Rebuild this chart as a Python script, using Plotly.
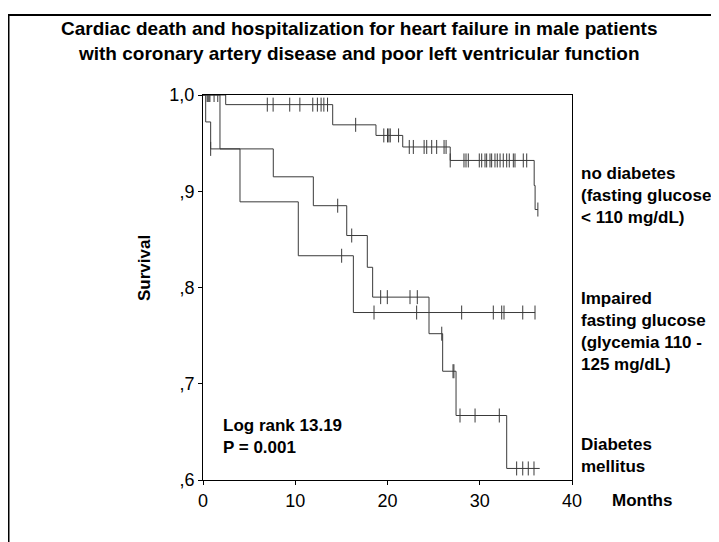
import plotly.graph_objects as go

# ---------------- data (months, survival) ----------------
nodiab_t = [0, 2.46, 14.06, 18.75, 21.65, 26.8, 35.9, 36.0, 36.3]
nodiab_s = [1.0, 0.990, 0.969, 0.958, 0.946, 0.932, 0.906, 0.881, 0.881]
nodiab_cens = [0.45, 0.55, 0.65, 0.75, 1.2, 1.6,
               6.97, 7.6, 9.4, 10.5, 11.9, 12.4, 12.8, 13.1, 13.5,
               16.55,
               19.6, 20.0, 20.15, 20.3, 21.2,
               22.36, 22.8, 23.97, 24.25, 24.79, 25.33, 26.13, 26.35,
               26.8, 28.29, 28.51, 28.76, 29.95, 30.21, 30.57, 30.75, 31.11, 31.29,
               31.65, 31.9, 32.2, 32.55, 32.92, 33.2, 33.64, 33.82, 34.72, 35.09,
               36.3]

ifg_t = [0, 1.84, 4.01, 10.33, 16.3, 36.0]
ifg_s = [1.0, 0.944, 0.889, 0.833, 0.774, 0.774]
ifg_cens = [15.03, 18.54, 23.16, 28.04, 31.47, 32.38, 32.63, 34.66, 35.99]

dm_t = [0, 0.29, 0.83, 7.62, 11.96, 15.58, 17.81, 18.39, 24.5, 25.98, 27.43, 32.92, 36.5]
dm_s = [1.0, 0.972, 0.944, 0.915, 0.885, 0.854, 0.821, 0.790, 0.752, 0.713, 0.667, 0.612, 0.612]
dm_cens = [0.83, 14.6, 16.12, 19.26, 19.98, 22.44, 23.23, 25.88, 27.1, 27.2,
           27.86, 29.49, 32.12, 34.0, 34.66, 35.26, 35.88]

x_ticks = [0, 10, 20, 30, 40]
y_ticks = [0.6, 0.7, 0.8, 0.9, 1.0]
y_ticklabels = [",6", ",7", ",8", ",9", "1,0"]

title_text = ("Cardiac death and hospitalization for heart failure in male patients<br>"
              "with coronary artery disease and poor left ventricular function")
group_labels = ["no diabetes<br>(fasting glucose<br>< 110 mg/dL)",
                "Impaired<br>fasting glucose<br>(glycemia 110 -<br>125 mg/dL)",
                "Diabetes<br>mellitus"]
stat_text = "Log rank 13.19<br>P = 0.001"


def step_value(ts, ss, t):
    v = ss[0]
    for ti, si in zip(ts, ss):
        if ti <= t:
            v = si
    return v


# ---------------- figure (positions given in screenshot pixels) ----------------
OFF = 8                      # page margin of the html body
W, H = 719, 542
L, R, T, B = 203, 572, 95, 480


def px(x):
    return (x - L) / (R - L)


def py(y):
    return (B - y) / (B - T)


LINE = "#3a3a3a"
fig = go.Figure()
for ts, ss, cens in [(nodiab_t, nodiab_s, nodiab_cens),
                     (ifg_t, ifg_s, ifg_cens),
                     (dm_t, dm_s, dm_cens)]:
    fig.add_trace(go.Scatter(x=ts, y=ss, mode="lines", line=dict(color=LINE, width=1, shape="hv"),
                             showlegend=False, hoverinfo="skip"))
    fig.add_trace(go.Scatter(x=cens, y=[step_value(ts, ss, c) for c in cens], mode="markers",
                             marker=dict(symbol="line-ns-open", size=10, color=LINE,
                                         line=dict(color=LINE, width=1)),
                             showlegend=False, hoverinfo="skip"))

BOLD = dict(family="Liberation Sans", size=17, color="black", weight="bold")
TITLE = dict(family="Liberation Sans", size=19, color="black", weight="bold")

annotations = [
    dict(text=title_text, xref="paper", yref="paper", x=px(359), y=py(41), xanchor="center",
         yanchor="middle", showarrow=False, font=TITLE, align="center"),
    dict(text="Survival", xref="paper", yref="paper", x=px(144), y=py(268), xanchor="center",
         yanchor="middle", showarrow=False, font=BOLD, textangle=-90),
    dict(text="Months", xref="paper", yref="paper", x=px(610), y=py(500), xanchor="left",
         yanchor="middle", showarrow=False, font=BOLD),
    dict(text=stat_text, xref="paper", yref="paper", x=px(221), y=py(436), xanchor="left",
         yanchor="middle", showarrow=False, font=BOLD, align="left"),
    dict(text=group_labels[0], xref="paper", yref="paper", x=px(579), y=py(195), xanchor="left",
         yanchor="middle", showarrow=False, font=BOLD, align="left"),
    dict(text=group_labels[1], xref="paper", yref="paper", x=px(579), y=py(331), xanchor="left",
         yanchor="middle", showarrow=False, font=BOLD, align="left"),
    dict(text=group_labels[2], xref="paper", yref="paper", x=px(579), y=py(455), xanchor="left",
         yanchor="middle", showarrow=False, font=BOLD, align="left"),
]

shapes = [
    dict(type="path", xref="paper", yref="paper",
         path=f"M {px(8.5)} {py(600)} L {px(8.5)} {py(15)} L {px(760)} {py(15)}",
         line=dict(color="black", width=2)),
]

fig.update_layout(
    width=W, height=H,
    margin=dict(l=L - OFF, r=W - (R - OFF), t=T - OFF, b=H - (B - OFF)),
    paper_bgcolor="white", plot_bgcolor="white",
    annotations=annotations, shapes=shapes,
    xaxis=dict(range=[0, 40], tickvals=x_ticks, ticks="outside", ticklen=4, tickcolor="black",
               showline=True, linecolor="black", linewidth=1, mirror=True, showgrid=False,
               zeroline=False, tickfont=dict(family="Liberation Sans", size=18, color="black")),
    yaxis=dict(range=[0.6, 1.0], tickvals=y_ticks, ticktext=y_ticklabels, ticks="outside",
               ticklen=4, tickcolor="black", showline=True, linecolor="black", linewidth=1,
               mirror=True, showgrid=False, zeroline=False,
               tickfont=dict(family="Liberation Sans", size=18, color="black")),
)

fig.write_html("out.html")
